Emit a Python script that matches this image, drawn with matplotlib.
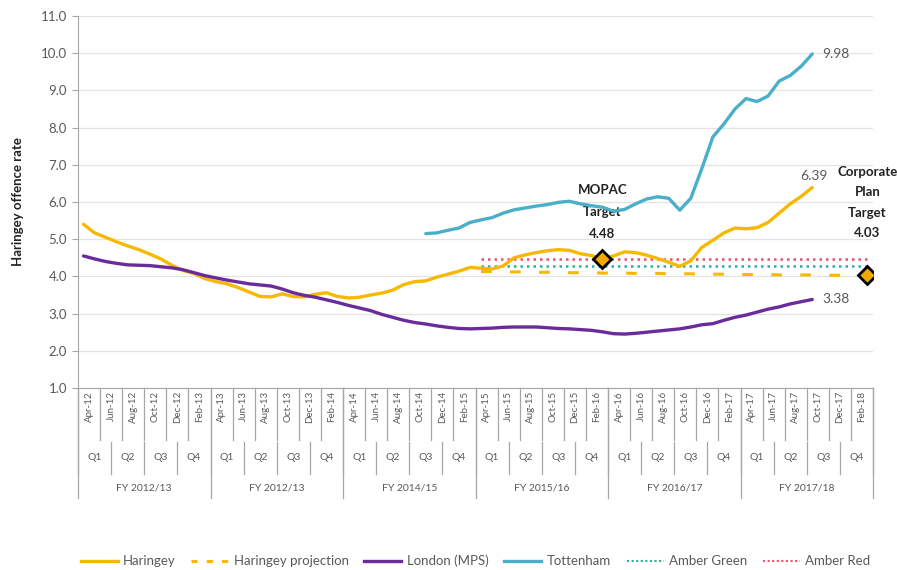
import matplotlib
matplotlib.use("Agg")
import matplotlib.pyplot as plt
import matplotlib.transforms as mtransforms
from matplotlib.lines import Line2D

plt.rcParams['font.family'] = ['Lato', 'DejaVu Sans']

# ---------------- data ----------------
month_labels = ["Apr", "Jun", "Aug", "Oct", "Dec", "Feb"]
fy_labels = ["FY 2012/13", "FY 2012/13", "FY 2014/15", "FY 2015/16", "FY 2016/17", "FY 2017/18"]
fy_start_years = [12, 13, 14, 15, 16, 17]
quarter_labels = ["Q1", "Q2", "Q3", "Q4"]

haringey = [5.40, 5.17, 5.05, 4.93, 4.82, 4.72, 4.60, 4.47, 4.30, 4.16, 4.08, 3.94,
            3.86, 3.80, 3.70, 3.58, 3.46, 3.45, 3.53, 3.46, 3.45, 3.52, 3.56, 3.46,
            3.42, 3.44, 3.50, 3.55, 3.63, 3.78, 3.86, 3.88, 3.98, 4.06, 4.14, 4.24,
            4.22, 4.20, 4.28, 4.50, 4.58, 4.64, 4.69, 4.72, 4.70, 4.61, 4.56, 4.48,
            4.55, 4.66, 4.64, 4.57, 4.48, 4.38, 4.27, 4.42, 4.78, 4.97, 5.17, 5.30,
            5.28, 5.31, 5.45, 5.70, 5.95, 6.15, 6.39]

london = [4.55, 4.47, 4.40, 4.35, 4.31, 4.30, 4.29, 4.26, 4.23, 4.18, 4.10, 4.02,
          3.96, 3.90, 3.85, 3.80, 3.77, 3.74, 3.66, 3.56, 3.49, 3.44, 3.37, 3.30,
          3.22, 3.15, 3.08, 2.98, 2.90, 2.82, 2.76, 2.72, 2.67, 2.63, 2.60, 2.59,
          2.60, 2.61, 2.63, 2.64, 2.64, 2.64, 2.62, 2.60, 2.59, 2.57, 2.55, 2.51,
          2.46, 2.45, 2.47, 2.50, 2.53, 2.56, 2.59, 2.64, 2.70, 2.73, 2.82, 2.90,
          2.96, 3.04, 3.12, 3.18, 3.26, 3.32, 3.38]

tottenham_start = 31
tottenham = [5.15, 5.17, 5.24, 5.30, 5.45,
             5.52, 5.58, 5.70, 5.79, 5.84, 5.89, 5.93, 5.99, 6.02, 5.95, 5.90, 5.86,
             5.75, 5.80, 5.95, 6.08, 6.14, 6.10, 5.78, 6.10, 6.90, 7.75, 8.10, 8.50,
             8.78, 8.70, 8.85, 9.25, 9.40, 9.65, 9.98]

projection_start = 36
projection = [4.13, 4.13, 4.12, 4.12, 4.12, 4.11, 4.11, 4.11, 4.10, 4.10, 4.10, 4.09,
              4.09, 4.09, 4.08, 4.08, 4.08, 4.07, 4.07, 4.07, 4.06, 4.06, 4.06, 4.05,
              4.05, 4.05, 4.05, 4.04, 4.04, 4.04, 4.04, 4.03, 4.03, 4.03, 4.03, 4.03]

amber_start = 36
amber_end = 71
amber_red = 4.48
amber_green = 4.27

mopac_month = 47
mopac_target = 4.48
corp_month = 71
corp_target = 4.03

# ---------------- colours ----------------
c_har = "#F7B900"
c_lon = "#6B2C9B"
c_tot = "#4AAFC8"
c_green = "#2EAE9A"
c_red = "#F0506A"
c_text = "#595959"

fig = plt.figure(figsize=(8.97, 5.70), dpi=100)
ax = fig.add_axes([78/897, 1-388/570, (873-78)/897, (388-16)/570])

ax.plot(range(len(haringey)), haringey, color=c_har, lw=2.4, solid_capstyle='round', zorder=4)
ax.plot(range(projection_start, projection_start+len(projection)), projection,
        color=c_har, lw=2.2, dashes=(3.5, 6), zorder=3)
ax.plot(range(len(london)), london, color=c_lon, lw=2.4, solid_capstyle='round', zorder=4)
ax.plot(range(tottenham_start, tottenham_start+len(tottenham)), tottenham,
        color=c_tot, lw=2.4, solid_capstyle='round', zorder=4)
xs_amber = list(range(amber_start, amber_end+1))
ax.plot(xs_amber, [amber_green]*len(xs_amber), color=c_green, lw=1.8, ls=(0, (1, 1.6)), zorder=3)
ax.plot(xs_amber, [amber_red]*len(xs_amber), color=c_red, lw=1.8, ls=(0, (1, 1.6)), zorder=3)

ax.plot([mopac_month], [mopac_target], marker='D', ms=9.5, mfc="#F2A900", mec="black", mew=2, zorder=6)
ax.plot([corp_month], [corp_target], marker='D', ms=9.5, mfc="#F2A900", mec="black", mew=2, zorder=6)

ax.set_xlim(-0.5, 71.5)
ax.set_ylim(1.0, 11.0)
ax.set_yticks([i for i in range(1, 12)])
ax.set_yticklabels([f"{v:.1f}" for v in range(1, 12)], fontsize=9.5, color=c_text)
ax.yaxis.grid(True, color="#E3E3E3", lw=0.9)
ax.set_axisbelow(True)
ax.set_xticks([])
for s in ["top", "right"]:
    ax.spines[s].set_visible(False)
ax.spines["left"].set_color("#A6A6A6")
ax.spines["bottom"].set_color("#A6A6A6")
ax.tick_params(axis='y', length=4, color="#A6A6A6", pad=4)
ax.set_ylabel("Haringey offence rate", fontsize=9.5, fontweight='bold', color="#222222", labelpad=12)

# end labels
ax.annotate(f"{tottenham[-1]:.2f}", (tottenham_start+len(tottenham)-1, tottenham[-1]),
            xytext=(7, 0), textcoords='offset points', va='center', ha='left', fontsize=10, color=c_text)
ax.annotate(f"{haringey[-1]:.2f}", (len(haringey)-1, haringey[-1]),
            xytext=(1, 4), textcoords='offset points', va='bottom', ha='center', fontsize=10, color=c_text)
ax.annotate(f"{london[-1]:.2f}", (len(london)-1, london[-1]),
            xytext=(7, 0), textcoords='offset points', va='center', ha='left', fontsize=10, color=c_text)
ax.annotate(f"MOPAC\nTarget\n{mopac_target:.2f}", (mopac_month, mopac_target),
            xytext=(0, 13), textcoords='offset points', va='bottom', ha='center',
            fontsize=9.5, fontweight='bold', color="#222222", linespacing=2.0)
ax.annotate(f"Corporate\nPlan\nTarget\n{corp_target:.2f}", (corp_month, corp_target),
            xytext=(0, 26), textcoords='offset points', va='bottom', ha='center',
            fontsize=9.5, fontweight='bold', color="#222222", linespacing=1.85)

# multi-level category axis
trans = mtransforms.blended_transform_factory(ax.transData, fig.transFigure)
def fy(ypix):
    return 1 - ypix/570
line_kw = dict(color="#A6A6A6", lw=0.9, transform=trans, clip_on=False)
for k in range(37):
    x = -0.5 + 2*k
    ax.add_line(Line2D([x, x], [fy(388), fy(440)], **line_kw))
for k in range(25):
    x = -0.5 + 3*k
    ax.add_line(Line2D([x, x], [fy(442), fy(474)], **line_kw))
for k in range(7):
    x = -0.5 + 12*k
    ax.add_line(Line2D([x, x], [fy(388), fy(498)], **line_kw))

for f in range(6):
    for m in range(6):
        idx = f*12 + 2*m
        yr = fy_start_years[f] + (1 if m == 5 else 0)
        ax.text(idx + 0.5, fy(391), f"{month_labels[m]}-{yr:02d}", rotation=90, ha='center', va='top',
                fontsize=7, color=c_text, transform=trans)
    for q in range(4):
        ax.text(f*12 + 3*q + 1, fy(458), quarter_labels[q], ha='center', va='center',
                fontsize=7.5, color=c_text, transform=trans)
    ax.text(f*12 + 5.5, fy(488), fy_labels[f], ha='center', va='center',
            fontsize=7.5, color=c_text, transform=trans)

# legend
handles = [
    Line2D([], [], color=c_har, lw=2.4),
    Line2D([], [], color=c_har, lw=2.2, dashes=(2, 3)),
    Line2D([], [], color=c_lon, lw=2.4),
    Line2D([], [], color=c_tot, lw=2.4),
    Line2D([], [], color=c_green, lw=1.5, ls=(0, (1, 1.2))),
    Line2D([], [], color=c_red, lw=1.5, ls=(0, (1, 1.2))),
]
labels = ["Haringey", "Haringey projection", "London (MPS)", "Tottenham", "Amber Green", "Amber Red"]
leg = fig.legend(handles, labels, loc='center', bbox_to_anchor=(0.53, 1-561/570), ncol=6,
                 frameon=False, fontsize=9.5, handlelength=2.8, columnspacing=1.2, handletextpad=0.4)
for t in leg.get_texts():
    t.set_color(c_text)

fig.savefig("out.png", dpi=100)
